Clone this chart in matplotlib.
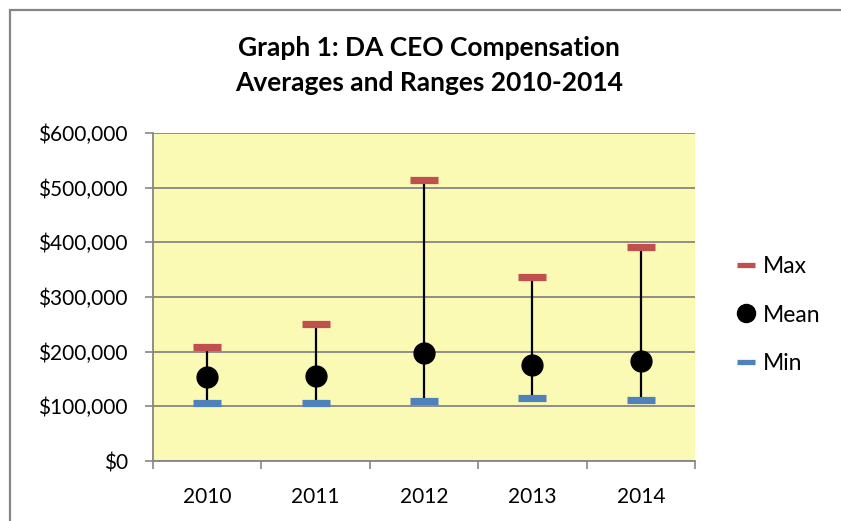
import matplotlib
matplotlib.use("Agg")
import matplotlib.pyplot as plt
from matplotlib.lines import Line2D
from matplotlib.patches import Rectangle
from matplotlib.ticker import FuncFormatter, MultipleLocator, FixedLocator

years = ["2010", "2011", "2012", "2013", "2014"]
max_vals = [207700, 250400, 513600, 337000, 391400]
mean_vals = [153800, 155700, 197200, 175300, 182600]
min_vals = [107000, 107000, 109900, 115400, 111200]

FONT = ["Lato", "DejaVu Sans"]
plt.rcParams["font.family"] = FONT

W, H = 841, 521
fig = plt.figure(figsize=(W / 100, H / 100), dpi=100)
fig.patch.set_facecolor("white")

# outer chart border (left and top visible)
fig.add_artist(Rectangle((10 / W, -0.1), 1.2, (H - 10) / H + 0.1, transform=fig.transFigure,
                         fill=False, edgecolor="#868686", linewidth=1.6))

ax = fig.add_axes([153 / W, (H - 461) / H, 542 / W, 328 / H])
ax.set_facecolor("#FAFAB4")

x = list(range(len(years)))
red = "#C0504D"
blue = "#4F81BD"

ax.vlines(x, min_vals, max_vals, color="black", linewidth=1.6, zorder=3)
ax.plot(x, max_vals, linestyle="none", marker="_", markersize=20, markeredgewidth=5.2,
        color=red, zorder=4)
ax.plot(x, min_vals, linestyle="none", marker="_", markersize=20, markeredgewidth=5.2,
        color=blue, zorder=4)
ax.plot(x, mean_vals, linestyle="none", marker="o", markersize=15, color="black", zorder=5)

ax.set_xlim(-0.5, len(years) - 0.5)
ax.set_ylim(0, 600000)
ax.yaxis.set_major_locator(MultipleLocator(100000))
ax.yaxis.set_major_formatter(FuncFormatter(lambda v, p: "${:,.0f}".format(v)))
ax.grid(axis="y", color="#868686", linewidth=1.3, zorder=1)
ax.set_axisbelow(True)

ax.xaxis.set_major_locator(FixedLocator(x))
ax.set_xticklabels(years)
ax.xaxis.set_minor_locator(FixedLocator([i - 0.5 for i in range(len(years) + 1)]))
ax.tick_params(axis="x", which="major", length=0, pad=19, labelsize=15)
ax.tick_params(axis="x", which="minor", length=6, width=1.2, color="#868686", direction="out")
ax.tick_params(axis="y", which="major", length=6, width=1.2, color="#868686",
               direction="out", pad=12, labelsize=15)

for s in ["top", "right"]:
    ax.spines[s].set_visible(False)
for s in ["left", "bottom"]:
    ax.spines[s].set_color("#868686")
    ax.spines[s].set_linewidth(1.3)

fig.text(429 / W, 1 - 48 / H, "Graph 1: DA CEO Compensation", ha="center", va="center",
         fontsize=19, fontweight="bold")
fig.text(429 / W, 1 - 83 / H, "Averages and Ranges 2010-2014", ha="center", va="center",
         fontsize=19, fontweight="bold")

handles = [
    Line2D([], [], linestyle="none", marker="_", markersize=12.5, markeredgewidth=3.8, color=red),
    Line2D([], [], linestyle="none", marker="o", markersize=13, color="black"),
    Line2D([], [], linestyle="none", marker="_", markersize=12.5, markeredgewidth=3.8, color=blue),
]
leg = fig.legend(handles, ["Max", "Mean", "Min"], loc="center left",
                 bbox_to_anchor=(724 / W, 1 - 315 / H), frameon=False, fontsize=16.5,
                 handlelength=0.9, handletextpad=0.3, labelspacing=1.2, borderpad=0)

fig.savefig("out.png", dpi=100)
